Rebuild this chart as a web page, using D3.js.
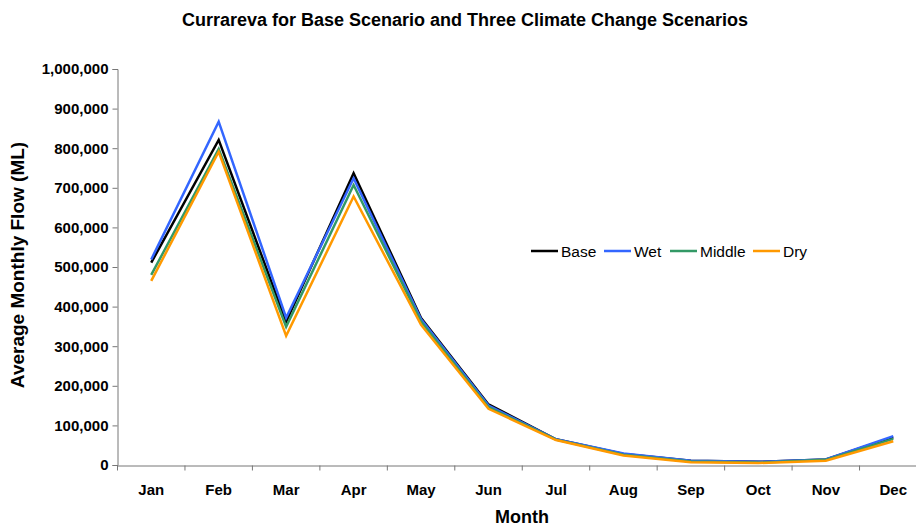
<!DOCTYPE html>
<html>
<head>
<meta charset="utf-8">
<script src="https://cdn.jsdelivr.net/npm/d3@7"></script>
<style>
  body { margin: 0; background: #fff; }
  text { font-family: "Liberation Sans", Arial, sans-serif; }
</style>
</head>
<body>
<div id="chart"></div>
<script>
const months = ['Jan', 'Feb', 'Mar', 'Apr', 'May', 'Jun', 'Jul', 'Aug', 'Sep', 'Oct', 'Nov', 'Dec'];
const seriesNames = ['Base', 'Wet', 'Middle', 'Dry'];
const seriesColors = ['#000000', '#3366ff', '#339966', '#ff9900'];

// average monthly flow (ML)
const base   = [511000, 821000, 362000, 737000, 371000, 153000, 65000, 28000, 11000, 8000, 14000, 70000];
const wet    = [519000, 867000, 372000, 724000, 368000, 150000, 65000, 29000, 11000, 8000, 14000, 73000];
const middle = [480000, 798000, 349000, 707000, 362000, 146000, 64000, 26000, 9000, 6000, 13000, 66000];
const dry    = [465000, 791000, 326000, 678000, 354000, 142000, 63000, 24000, 7000, 5000, 11000, 60000];
const yTicks = [0, 100000, 200000, 300000, 400000, 500000, 600000, 700000, 800000, 900000, 1000000];

const seriesValues = [base, wet, middle, dry];

const W = 916, H = 526;
const svg = d3.select('#chart').append('svg')
  .attr('width', W).attr('height', H);

const x = d3.scaleBand().domain(months).range([117.5, 927]);
const y = d3.scaleLinear().domain([0, 1000000]).range([465, 69]);
const fmt = d3.format(',');

// title
svg.append('text')
  .attr('x', 465).attr('y', 26)
  .attr('text-anchor', 'middle')
  .style('font-size', '18px').style('font-weight', 'bold')
  .text('Currareva for Base Scenario and Three Climate Change Scenarios');

// y axis
const yAxis = svg.append('g')
  .attr('transform', 'translate(117.5,0)')
  .call(d3.axisLeft(y).tickValues(yTicks).tickFormat(fmt).tickSize(5).tickPadding(4));
yAxis.select('.domain').attr('stroke', '#777');
yAxis.selectAll('.tick line').attr('stroke', '#777');
yAxis.selectAll('.tick text')
  .style('font-size', '15px').style('font-weight', 'bold').attr('fill', '#000');

// x axis
const xAxis = svg.append('g')
  .attr('transform', 'translate(0,465.5)')
  .call(d3.axisBottom(x).tickSize(0).tickPadding(19).tickSizeOuter(0));
xAxis.select('.domain').attr('stroke', '#777');
xAxis.selectAll('.tick text')
  .style('font-size', '15px').style('font-weight', 'bold').attr('fill', '#000');
xAxis.selectAll('.bound')
  .data(months)
  .enter().append('line')
  .attr('x1', d => x(d)).attr('x2', d => x(d))
  .attr('y1', 0).attr('y2', 5)
  .attr('stroke', '#777');

// axis titles
svg.append('text')
  .attr('transform', 'translate(24,265) rotate(-90)')
  .attr('text-anchor', 'middle')
  .style('font-size', '19px').style('font-weight', 'bold')
  .text('Average Monthly Flow (ML)');

svg.append('text')
  .attr('x', 522).attr('y', 523)
  .attr('text-anchor', 'middle')
  .style('font-size', '18px').style('font-weight', 'bold')
  .text('Month');

// lines
const line = d3.line()
  .x((d, i) => x(months[i]) + x.bandwidth() / 2)
  .y(d => y(d));

seriesValues.forEach((vals, i) => {
  svg.append('path')
    .datum(vals)
    .attr('fill', 'none')
    .attr('stroke', seriesColors[i])
    .attr('stroke-width', 2.5)
    .attr('stroke-linejoin', 'miter')
    .attr('d', line);
});

// legend
const legendX = [531, 604, 670, 753];
const legend = svg.append('g');
seriesNames.forEach((name, i) => {
  const g = legend.append('g').attr('transform', `translate(${legendX[i]},251)`);
  g.append('line')
    .attr('x1', 0).attr('x2', 27)
    .attr('stroke', seriesColors[i]).attr('stroke-width', 2.5);
  g.append('text')
    .attr('x', 30).attr('y', 5.5)
    .style('font-size', '15.5px')
    .text(name);
});
</script>
</body>
</html>
